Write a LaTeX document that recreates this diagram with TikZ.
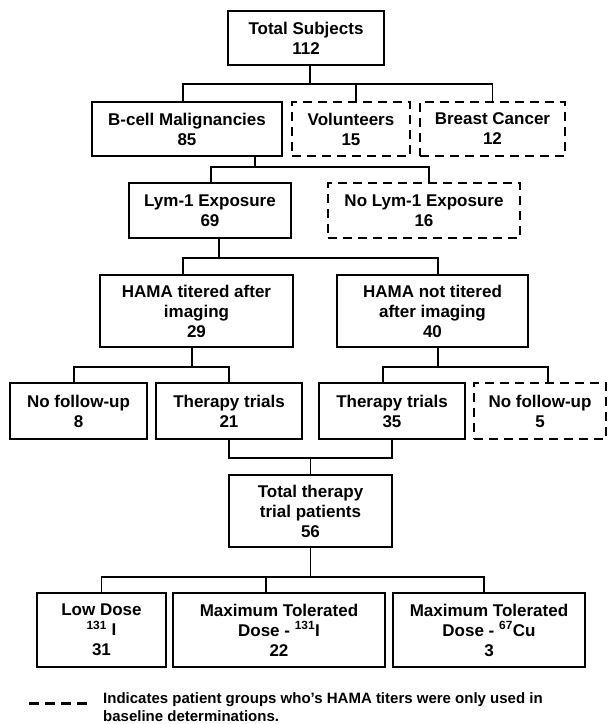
\documentclass[tikz,border=0pt]{standalone}
\usepackage{fontspec}
\setmainfont{Liberation Sans}
\usetikzlibrary{calc}
\begin{document}
\begin{tikzpicture}[x=1pt,y=-1pt,
  box/.style={draw, line width=1.8pt, inner sep=0pt, align=center,
    font=\fontsize{17}{20}\selectfont\bfseries},
  dbox/.style={box, dash pattern=on 9pt off 6pt},
  conn/.style={line width=1.4pt},
  legtext/.style={inner sep=0pt, align=left, anchor=north west,
    font=\fontsize{15}{18}\selectfont\bfseries}]
\useasboundingbox (0,0) rectangle (608,724);

% boxes
\node[box,  minimum width=156pt, minimum height=54pt] (total)  at (306,38)    {Total Subjects\\112};
\node[box,  minimum width=190pt, minimum height=54pt] (bcell)  at (187,129)   {B-cell Malignancies\\85};
\node[dbox, minimum width=118pt, minimum height=54pt] (vol)    at (351,129)   {Volunteers\\15};
\node[dbox, minimum width=145pt, minimum height=54pt] (breast) at (492.5,129) {Breast Cancer\\12};
\node[box,  minimum width=162pt, minimum height=55pt] (lym)    at (210,210.5) {Lym-1 Exposure\\69};
\node[dbox, minimum width=192pt, minimum height=55pt] (nolym)  at (424,210.5) {No Lym-1 Exposure\\16};
\node[box,  minimum width=193pt, minimum height=72pt] (hamat)  at (196.5,311) {HAMA titered after\\imaging\\29};
\node[box,  minimum width=191pt, minimum height=72pt] (hamant) at (432.5,311) {HAMA not titered\\after imaging\\40};
\node[box,  minimum width=137pt, minimum height=56pt] (nofu8)  at (78.5,411)  {No follow-up\\8};
\node[box,  minimum width=146pt, minimum height=56pt] (th21)   at (229,411)   {Therapy trials\\21};
\node[box,  minimum width=146pt, minimum height=56pt] (th35)   at (392,411)   {Therapy trials\\35};
\node[dbox, minimum width=132pt, minimum height=56pt] (nofu5)  at (540,411)   {No follow-up\\5};
\node[box,  minimum width=163pt, minimum height=72pt] (tot)    at (310.5,511) {Total therapy\\trial patients\\56};
\node[box,  minimum width=129pt, minimum height=74pt] (low)    at (101.5,630) {Low Dose\\\textsuperscript{131} I\\31};
\node[box,  minimum width=212pt, minimum height=74pt] (mtd1)   at (279,630)   {Maximum Tolerated\\Dose - \textsuperscript{131}I\\22};
\node[box,  minimum width=192pt, minimum height=74pt] (mtd2)   at (489,630)   {Maximum Tolerated\\Dose - \textsuperscript{67}Cu\\3};

% connectors
\draw[conn] ($(total.south)+(4,0)$) -- ++(0,18) coordinate (j1);
\draw[conn] ($(bcell.north)+(-4,0)$) |- (j1) -| (breast.north);
\draw[conn] ($(vol.north)+(5,0)$) coordinate (v1) -- (v1 |- j1);

\draw[conn] ($(bcell.south)+(68,0)$) -- ++(0,10) coordinate (j2);
\draw[conn] ($(lym.north)+(1,0)$) |- (j2) -| ($(nolym.north)+(5,0)$);

\draw[conn] ($(lym.south)+(9,0)$) -- ++(0,19) coordinate (j3);
\draw[conn] ($(hamat.north)+(-13.5,0)$) |- (j3) -| ($(hamant.north)+(5.5,0)$);

\draw[conn] ($(hamat.south)+(-4.5,0)$) -- ++(0,19) coordinate (j4);
\draw[conn] ($(nofu8.north)+(-4.5,0)$) |- (j4) -| (th21.north);

\draw[conn] ($(hamant.south)+(5.5,0)$) -- ++(0,19) coordinate (j5);
\draw[conn] ($(th35.north)+(-9,0)$) |- (j5) -| ($(nofu5.north)+(8,0)$);

\draw[conn] (th21.south) -- ++(0,18) coordinate (j6) -| (th35.south);
\draw[conn] (tot.north) -- (tot.north |- j6);

\draw[conn] (tot.south) -- ++(0,29) coordinate (j7);
\draw[conn] (low.north) |- (j7) -| ($(mtd2.north)+(-5,0)$);
\draw[conn] ($(mtd1.north)+(-13,0)$) coordinate (m1) -- (m1 |- j7);

% legend
\coordinate (la) at (29,703);
\coordinate (lb) at (88,703);
\draw[line width=3pt, dash pattern=on 10pt off 6pt] (la) -- (lb);
\node[legtext] (legend) at (103,692) {Indicates patient groups who's HAMA titers were only used in\\baseline determinations.};
\end{tikzpicture}
\end{document}
